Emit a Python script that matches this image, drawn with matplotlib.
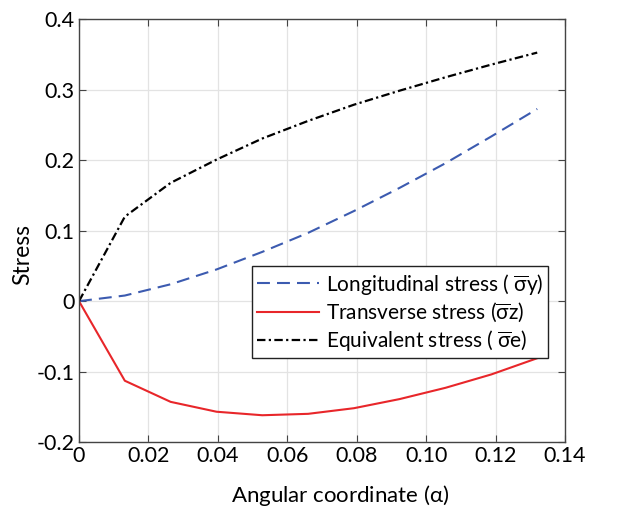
import matplotlib.pyplot as plt
import numpy as np

alpha = [0, 0.0132, 0.0264, 0.0396, 0.0528, 0.066, 0.0792, 0.0924, 0.1056, 0.1188, 0.132]
longitudinal = [0, 0.008, 0.024, 0.045, 0.070, 0.097, 0.128, 0.161, 0.196, 0.234, 0.273]
transverse = [0, -0.113, -0.143, -0.157, -0.162, -0.160, -0.152, -0.139, -0.123, -0.104, -0.081]
equivalent = [0, 0.120, 0.168, 0.201, 0.231, 0.256, 0.279, 0.299, 0.318, 0.336, 0.353]

x_ticks = [0, 0.02, 0.04, 0.06, 0.08, 0.10, 0.12, 0.14]
x_tick_labels = ['0', '0.02', '0.04', '0.06', '0.08', '0.10', '0.12', '0.14']
y_ticks = [-0.2, -0.1, 0, 0.1, 0.2, 0.3, 0.4]
y_tick_labels = ['-0.2', '-0.1', '0', '0.1', '0.2', '0.3', '0.4']

plt.rcParams['font.family'] = ['Lato', 'DejaVu Sans']
plt.rcParams['mathtext.fontset'] = 'custom'
plt.rcParams['mathtext.rm'] = 'Lato'
plt.rcParams['mathtext.it'] = 'Lato'
plt.rcParams['xtick.direction'] = 'in'
plt.rcParams['ytick.direction'] = 'in'

fig = plt.figure(figsize=(6.33, 5.11), dpi=100)
ax = fig.add_axes([79 / 633, 1 - 442 / 511, 486 / 633, 422.5 / 511])

ax.plot(alpha, longitudinal, color='#3c5bb0', ls=(0, (6.2, 3.4)), lw=1.5,
        label=r'Longitudinal stress ( $\overline{\sigma}$y)')
ax.plot(alpha, transverse, color='#e8262a', ls='-', lw=1.5,
        label=r'Transverse stress ($\overline{\sigma}$z)')
ax.plot(alpha, equivalent, color='black', ls=(0, (3.8, 1.5, 1, 1.5)), lw=1.6,
        label=r'Equivalent stress ( $\overline{\sigma}$e)')

ax.set_xlim(0, 0.14)
ax.set_ylim(-0.2, 0.4)
ax.set_xticks(x_ticks)
ax.set_xticklabels(x_tick_labels)
ax.set_yticks(y_ticks)
ax.set_yticklabels(y_tick_labels)
ax.tick_params(labelsize=15.5, top=True, right=True, length=5, color='#444444', pad=3)
ax.grid(color='#e3e3e3', lw=0.9)
for s in ax.spines.values():
    s.set_color('#444444')
    s.set_linewidth(1.0)

ax.set_xlabel(r'Angular coordinate ($\alpha$)', fontsize=16)
ax.set_ylabel('Stress', fontsize=16.5)
ax.xaxis.set_label_coords(0.537, -0.097)
ax.yaxis.set_label_coords(-0.095, 0.443)

leg = ax.legend(loc='lower right', bbox_to_anchor=(0.966, 0.198), fontsize=15,
                frameon=True, fancybox=False, edgecolor='#222222', framealpha=1,
                handlelength=3.0, handletextpad=0.3, borderpad=0.25, labelspacing=0.2,
                borderaxespad=0)
leg.get_frame().set_linewidth(1.0)

plt.savefig('out.png', dpi=100)
